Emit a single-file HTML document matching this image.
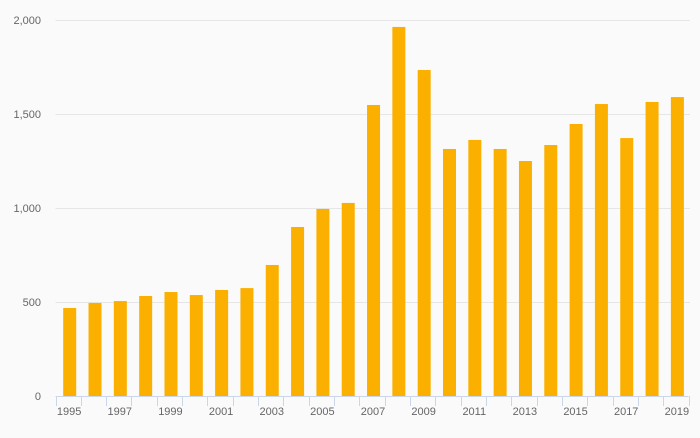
<!DOCTYPE html>
<html><head><meta charset="utf-8"><style>
body{margin:0;background:#fafafa;font-family:"Liberation Sans",sans-serif}
</style></head><body>
<svg width="700" height="433" xmlns="http://www.w3.org/2000/svg">
<rect width="700" height="433" fill="#fafafa"/>
<g id="grid"></g><g id="bars"></g><g id="axis"></g>
</svg>
<script>
const years=[1995,1996,1997,1998,1999,2000,2001,2002,2003,2004,2005,2006,2007,2008,2009,2010,2011,2012,2013,2014,2015,2016,2017,2018,2019];
const values=[468,495,505,532,553,537,564,574,697,899,995,1027,1548,1963,1734,1314,1362,1314,1250,1335,1447,1553,1372,1564,1590];
const yTicks=[0,500,1000,1500,2000];
const yTickLabels=["0","500","1,000","1,500","2,000"];
const NS="http://www.w3.org/2000/svg";
const L=55.5,R=688.5,T=20,B=396,yMax=2000;
const bw=(R-L)/years.length;
function xs(i){return L+i*bw;}
function ys(v){return B-(B-T)*v/yMax;}
function mk(t,a,p){const e=document.createElementNS(NS,t);for(const k in a)e.setAttribute(k,a[k]);p.appendChild(e);return e;}
const grid=document.getElementById('grid'),bars=document.getElementById('bars'),axis=document.getElementById('axis');
yTicks.forEach((v,i)=>{
  if(v>0){const g=mk('line',{x1:L,x2:R+1.5,y1:Math.round(ys(v))+0.5,y2:Math.round(ys(v))+0.5,stroke:'#e6e6e6'},grid);
  
  }
  const t=mk('text',{x:41,y:ys(v)+4,'text-anchor':'end','font-size':11,fill:'#666'},grid);
  t.textContent=yTickLabels[i];
  
  
});
values.forEach((v,i)=>{
  const r=mk('rect',{x:xs(i)+7.7,y:ys(v),width:13,height:B-ys(v),fill:'#fbb000'},bars);
  
  
});
const ax=mk('line',{x1:L,x2:R,y1:396.5,y2:396.5,stroke:'#ccd6eb'},axis);


for(let i=0;i<=years.length;i++){
  const tk=mk('line',{x1:Math.round(xs(i))+0.5,x2:Math.round(xs(i))+0.5,y1:396,y2:406,stroke:'#ccd6eb'},axis);
  
  
}
years.forEach((y,i)=>{
  if(i%2)return;
  const t=mk('text',{x:xs(i)+bw/2+1,y:415,'text-anchor':'middle','font-size':11,fill:'#666'},axis);
  t.textContent=y;
  
  
});
</script>
</body></html>
